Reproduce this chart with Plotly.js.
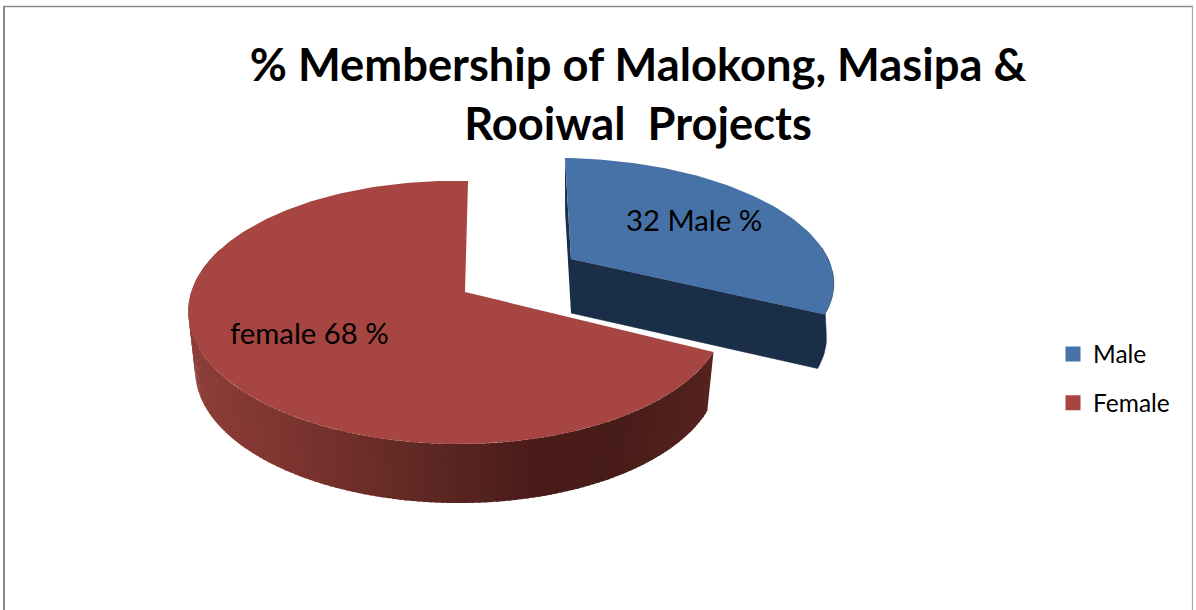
<!DOCTYPE html>
<html>
<head>
<meta charset="utf-8">
<script src="https://cdn.plot.ly/plotly-3.0.1.min.js"></script>
<style>html,body{margin:0;padding:0;background:#fff}#chart{width:1196px;height:610px}</style>
</head>
<body>
<div id="chart"></div>
<script>
var categories = ['Male', 'Female'];
var values = [32, 68];
var sliceLabels = ['32 Male %', 'female 68 %'];
var chartTitle = '% Membership of Malokong, Masipa &<br>Rooiwal  Projects';

var FONT = 'Lato, Carlito, "Open Sans", sans-serif';
var colMaleTop = '#4672a8', colMaleWall = '#1b2e48';
var colFemaleTop = '#a64541';

// projection of the unit disc onto the page, one per exploded slice
var viewMale = {x0: 571, y0: 259, a: 261, b: 116.8, c: 7, d: 2.8, k: 0.156, m: -0.01, depth: 54, sx: 0.972};
var viewFemale = {x0: 465, y0: 292, a: 265, b: 128.3, c: -3.5, d: 3.2, k: 0.156, m: -0.028, depth: 59, sx: 0.975};

function topPt(v, t) {
  var X = Math.sin(t), Y = -Math.cos(t), D = 1 - v.k * Y - v.m * X;
  return [v.x0 + (v.a * X + v.c * Y) / D, v.y0 + (v.b * Y + v.d * X) / D];
}
function botPt(v, t) {
  var p = topPt(v, t);
  return [v.x0 + (p[0] - v.x0) * v.sx, p[1] + v.depth];
}
function apexTop(v) { return [v.x0, v.y0]; }
function apexBottom(v) { return [v.x0, v.y0 + v.depth]; }

function poly(pts, color, lw) {
  return {
    type: 'scatter', mode: 'lines', x: pts.map(function (p) { return p[0]; }), y: pts.map(function (p) { return p[1]; }),
    fill: 'toself', fillcolor: color, line: {color: color, width: lw || 0},
    hoverinfo: 'skip', showlegend: false
  };
}
function arc(v, t0, t1, n, fn) {
  var out = [];
  for (var i = 0; i <= n; i++) out.push(fn(v, t0 + (t1 - t0) * i / n));
  return out;
}
// wall shading along page x
var stops = [[188, [142, 62, 57]], [300, [122, 51, 46]], [400, [100, 42, 38]], [530, [74, 28, 25]], [620, [72, 28, 25]], [714, [86, 35, 31]]];
function wallColor(x) {
  for (var i = 0; i < stops.length - 1; i++) {
    if (x <= stops[i + 1][0]) {
      var f = Math.max(0, (x - stops[i][0]) / (stops[i + 1][0] - stops[i][0]));
      var a = stops[i][1], b = stops[i + 1][1];
      return 'rgb(' + [0, 1, 2].map(function (j) { return Math.round(a[j] + (b[j] - a[j]) * f); }).join(',') + ')';
    }
  }
  return 'rgb(86,35,31)';
}

var total = values[0] + values[1];
var split = 2 * Math.PI * values[0] / total;
var traces = [];

// Male slice: walls then top face
var mv = viewMale;
traces.push(poly([topPt(mv, 0), botPt(mv, 0), apexBottom(mv), apexTop(mv)], colMaleWall));
traces.push(poly(arc(mv, split * 1.03, split * 0.72, 20, topPt).concat(arc(mv, split * 0.85, split, 12, botPt)), colMaleWall, 0.6));
traces.push(poly([apexTop(mv), topPt(mv, split), botPt(mv, split), apexBottom(mv)], colMaleWall, 0.6));
traces.push(poly([apexTop(mv)].concat(arc(mv, 0, split, 80, topPt)), colMaleTop));

// Female slice: overlapping shaded wall strips then top face
var fv = viewFemale, N = 150, wallEnd = 2 * Math.PI * 0.8;
for (var i = 0; i < N; i++) {
  var t0 = split + (wallEnd - split) * i / N, t1 = split + (wallEnd - split) * (i + 1.5) / N;
  var a0 = topPt(fv, t0), a1 = topPt(fv, t1), b0 = botPt(fv, t0), b1 = botPt(fv, t1);
  traces.push(poly([a0, a1, b1, b0], wallColor((a0[0] + a1[0]) / 2), 0));
}
traces.push(poly([apexTop(fv)].concat(arc(fv, split, 2 * Math.PI, 200, topPt)), colFemaleTop, 0));

// Legend entries
[colMaleTop, colFemaleTop].forEach(function (c, i) {
  traces.push({
    type: 'scatter', mode: 'markers', x: [null], y: [null], name: categories[i],
    legendgroup: categories[i], marker: {symbol: 'square', size: 15, color: c}, hoverinfo: 'skip'
  });
});

var layout = {
  width: 1196, height: 610, autosize: false,
  margin: {l: 0, r: 0, t: 0, b: 0},
  paper_bgcolor: '#ffffff', plot_bgcolor: '#ffffff',
  title: {
    text: chartTitle, x: 638 / 1196, xanchor: 'center', y: 1 - 81 / 610, yanchor: 'top',
    font: {family: FONT, size: 45.3, color: '#000000', weight: 700}
  },
  xaxis: {range: [0, 1196], visible: false, fixedrange: true},
  yaxis: {range: [610, 0], visible: false, fixedrange: true},
  legend: {
    x: 1053 / 1196, xanchor: 'left', y: 1 - 331.5 / 610, yanchor: 'top',
    font: {family: FONT, size: 24.5, color: '#000000'}, bgcolor: 'rgba(0,0,0,0)',
    tracegroupgap: 14, itemwidth: 30
  },
  annotations: [
    {text: sliceLabels[0], x: 693.5, y: 219, xref: 'x', yref: 'y', showarrow: false, font: {family: FONT, size: 29.3, color: '#000000'}},
    {text: sliceLabels[1], x: 309, y: 332, xref: 'x', yref: 'y', showarrow: false, font: {family: FONT, size: 29.3, color: '#000000'}}
  ],
  shapes: [
    {type: 'line', xref: 'x', yref: 'y', x0: 4, x1: 4, y0: 6, y1: 610, line: {color: '#888888', width: 2}},
    {type: 'line', xref: 'x', yref: 'y', x0: 3, x1: 1193, y0: 6.5, y1: 6.5, line: {color: '#8a8a8a', width: 1.5}},
    {type: 'line', xref: 'x', yref: 'y', x0: 1192.5, x1: 1192.5, y0: 6, y1: 610, line: {color: '#a8a8a8', width: 1.2}}
  ]
};
Plotly.newPlot('chart', traces, layout, {displayModeBar: false, staticPlot: true});
</script>
</body>
</html>
